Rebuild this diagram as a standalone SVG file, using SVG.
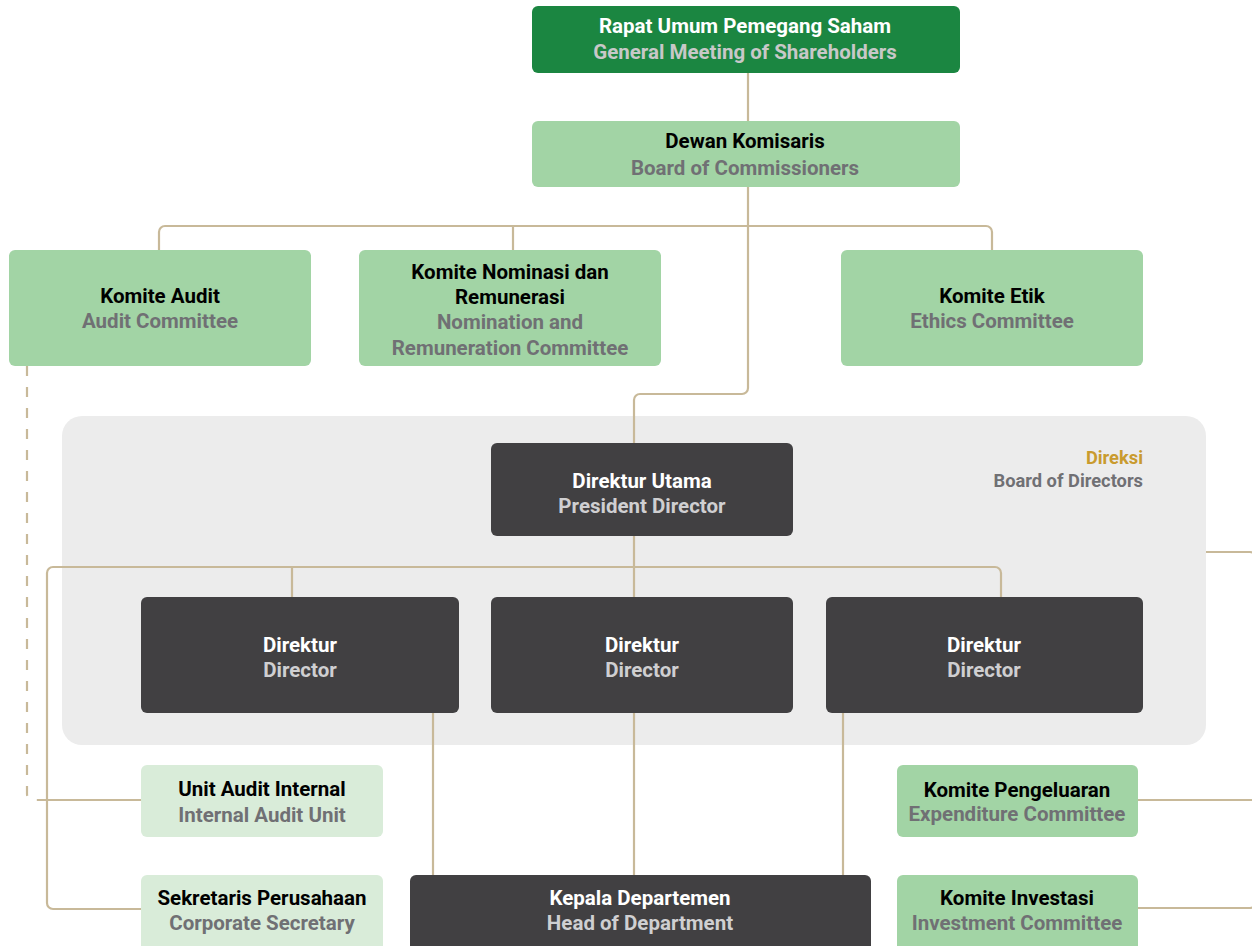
<svg xmlns="http://www.w3.org/2000/svg" width="1252" height="946" viewBox="0 0 1252 946">
<style>
text{font-family:Roboto,"Liberation Sans",sans-serif;font-weight:700;font-size:20.5px;text-anchor:middle}
.dg{fill:#1b8641}.lg{fill:#a2d4a5}.xg{fill:#d9ecd9}.dk{fill:#414042}
.nb{fill:#000}.en{fill:#707074}.nw{fill:#fff}.ew{fill:#cfcfd1}.er{fill:#c8c8c8}
.ln{fill:none;stroke:#c8b999;stroke-width:2.2}
.dash{stroke-dasharray:10 11}
.lbl{text-anchor:end;font-size:18.3px}
</style>
<rect x="62" y="416" width="1144" height="329" rx="20" fill="#ececec"/>
<g id="connectors">
<path class="ln" d="M748 73V121"/>
<path class="ln" d="M748 187V388a6 6 0 0 1 -6 6H640a6 6 0 0 0 -6 6V443"/>
<path class="ln" d="M159 250V232a6 6 0 0 1 6 -6H986a6 6 0 0 1 6 6V250"/>
<path class="ln" d="M513 226V250"/>
<path class="ln" d="M634 536V597"/>
<path class="ln" d="M141 909H53a6 6 0 0 1 -6 -6V573a6 6 0 0 1 6 -6H995a6 6 0 0 1 6 6V597"/>
<path class="ln" d="M292 567V597"/>
<path class="ln" d="M47 800H141"/>
<path class="ln dash" d="M27 366V794a6 6 0 0 0 6 6H47"/>
<path class="ln" d="M433 713V875M634 713V875M843 713V875"/>
<path class="ln" d="M1206 552H1250a6 6 0 0 1 6 6V902a6 6 0 0 1 -6 6H1138"/>
<path class="ln" d="M1138 800H1256"/>
</g>
<g id="rups"><rect class="dg" x="532" y="6" width="428" height="67" rx="6"/><text class="nw" x="745" y="33">Rapat Umum Pemegang Saham</text><text class="er" x="745" y="59">General Meeting of Shareholders</text></g>
<g id="dewan-komisaris"><rect class="lg" x="532" y="121" width="428" height="66" rx="6"/><text class="nb" x="745" y="148">Dewan Komisaris</text><text class="en" x="745" y="175">Board of Commissioners</text></g>
<g id="komite-audit"><rect class="lg" x="9" y="250" width="302" height="116" rx="6"/><text class="nb" x="160" y="303">Komite Audit</text><text class="en" x="160" y="328">Audit Committee</text></g>
<g id="komite-nominasi"><rect class="lg" x="359" y="250" width="302" height="116" rx="6"/><text class="nb" x="510" y="279">Komite Nominasi dan</text><text class="nb" x="510" y="304">Remunerasi</text><text class="en" x="510" y="329">Nomination and</text><text class="en" x="510" y="355">Remuneration Committee</text></g>
<g id="komite-etik"><rect class="lg" x="841" y="250" width="302" height="116" rx="6"/><text class="nb" x="992" y="303">Komite Etik</text><text class="en" x="992" y="328">Ethics Committee</text></g>
<g id="direksi-label"><text class="lbl" x="1143" y="464" style="fill:#c99b2e">Direksi</text><text class="en lbl" x="1143" y="487">Board of Directors</text></g>
<g id="direktur-utama"><rect class="dk" x="491" y="443" width="302" height="93" rx="6"/><text class="nw" x="642" y="488">Direktur Utama</text><text class="ew" x="642" y="513">President Director</text></g>
<g id="direktur-1"><rect class="dk" x="141" y="597" width="318" height="116" rx="6"/><text class="nw" x="300" y="652">Direktur</text><text class="ew" x="300" y="677">Director</text></g>
<g id="direktur-2"><rect class="dk" x="491" y="597" width="302" height="116" rx="6"/><text class="nw" x="642" y="652">Direktur</text><text class="ew" x="642" y="677">Director</text></g>
<g id="direktur-3"><rect class="dk" x="826" y="597" width="317" height="116" rx="6"/><text class="nw" x="984" y="652">Direktur</text><text class="ew" x="984" y="677">Director</text></g>
<g id="unit-audit-internal"><rect class="xg" x="141" y="765" width="242" height="72" rx="6"/><text class="nb" x="262" y="796">Unit Audit Internal</text><text class="en" x="262" y="822">Internal Audit Unit</text></g>
<g id="sekretaris-perusahaan"><rect class="xg" x="141" y="875" width="242" height="80" rx="6"/><text class="nb" x="262" y="905">Sekretaris Perusahaan</text><text class="en" x="262" y="930">Corporate Secretary</text></g>
<g id="kepala-departemen"><rect class="dk" x="410" y="875" width="461" height="80" rx="6"/><text class="nw" x="640" y="905">Kepala Departemen</text><text class="ew" x="640" y="930">Head of Department</text></g>
<g id="komite-pengeluaran"><rect class="lg" x="897" y="765" width="241" height="72" rx="6"/><text class="nb" x="1017" y="797">Komite Pengeluaran</text><text class="en" x="1017" y="821">Expenditure Committee</text></g>
<g id="komite-investasi"><rect class="lg" x="897" y="875" width="241" height="80" rx="6"/><text class="nb" x="1017" y="905">Komite Investasi</text><text class="en" x="1017" y="930">Investment Committee</text></g>
</svg>
